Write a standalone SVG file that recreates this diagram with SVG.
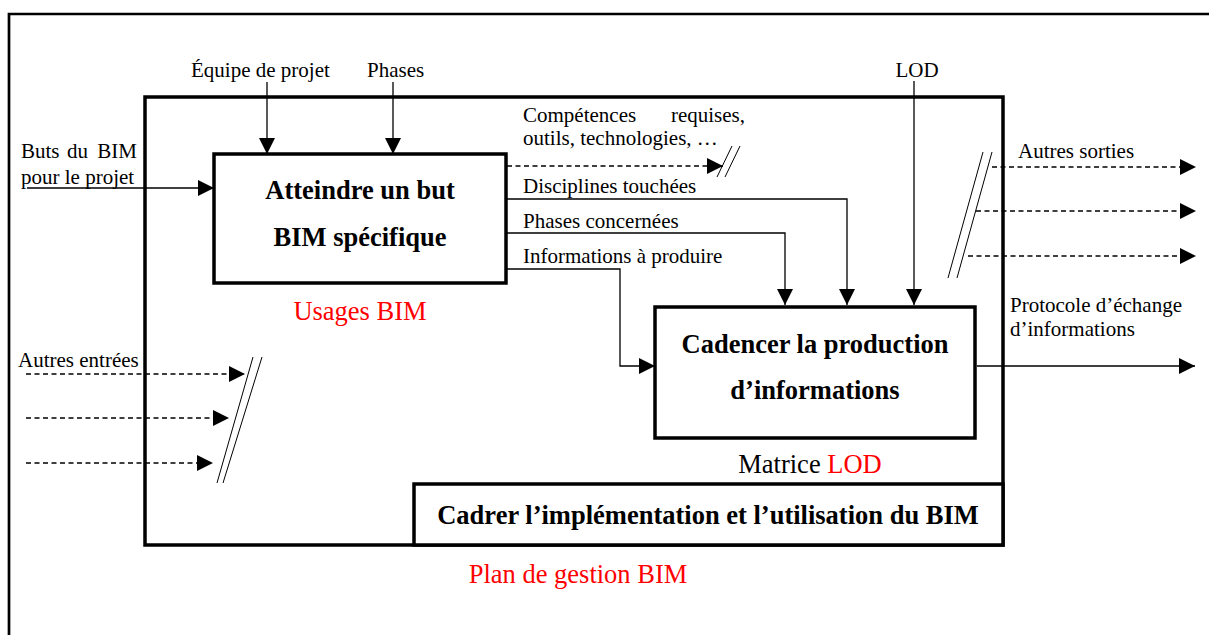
<svg xmlns="http://www.w3.org/2000/svg" width="1209" height="635" viewBox="0 0 1209 635">
<style>
.t{font-family:"Liberation Serif","Times New Roman",serif;font-size:21px;fill:#000}
.b{font-family:"Liberation Serif","Times New Roman",serif;font-size:26.5px;font-weight:bold;fill:#000}
.r{font-family:"Liberation Serif","Times New Roman",serif;font-size:26.5px;fill:#ff0000}
.box{fill:#fff;stroke:#000;stroke-width:3.5}
.frame{fill:none;stroke:#000;stroke-width:3.5}
.ln{fill:none;stroke:#000;stroke-width:1.3}
.dl{fill:none;stroke:#000;stroke-width:1.3;stroke-dasharray:5 3.5}
.sl{fill:none;stroke:#000;stroke-width:1}
</style>
<defs>
<marker id="ah" markerUnits="userSpaceOnUse" markerWidth="16" markerHeight="16" refX="16" refY="8" orient="auto">
<path d="M0,0 L16,8 L0,16 z" fill="#000"/>
</marker>
</defs>
<rect width="1209" height="635" fill="#fff"/>
<path d="M9,640 V14 H1215" fill="none" stroke="#000" stroke-width="2.7"/>
<g id="plan-gestion">
<rect class="frame" x="145" y="97" width="858" height="448"/>
<text class="r" x="578" y="583" text-anchor="middle">Plan de gestion BIM</text>
</g>
<g id="cadrer">
<rect class="box" x="414" y="484" width="589" height="61"/>
<text class="b" x="708" y="524" text-anchor="middle">Cadrer l’implémentation et l’utilisation du BIM</text>
</g>
<g id="atteindre">
<rect class="box" x="214" y="154" width="292" height="129"/>
<text class="b" x="360" y="199" text-anchor="middle">Atteindre un but</text>
<text class="b" x="360" y="246" text-anchor="middle">BIM spécifique</text>
<text class="r" x="360" y="320" text-anchor="middle">Usages BIM</text>
</g>
<g id="cadencer">
<rect class="box" x="655" y="307" width="320" height="131"/>
<text class="b" x="815" y="353" text-anchor="middle">Cadencer la production</text>
<text class="b" x="815" y="399" text-anchor="middle">d’informations</text>
<text class="t" x="810" y="473" text-anchor="middle" style="font-size:26.5px">Matrice <tspan fill="#ff0000">LOD</tspan></text>
</g>
<g id="connectors">
<line class="ln" x1="267" y1="82" x2="267" y2="154" marker-end="url(#ah)"/>
<line class="ln" x1="393" y1="82" x2="393" y2="154" marker-end="url(#ah)"/>
<line class="ln" x1="27" y1="188" x2="214" y2="188" marker-end="url(#ah)"/>
<line class="dl" x1="507" y1="166" x2="723" y2="166" marker-end="url(#ah)"/>
<line class="sl" x1="717" y1="177" x2="732" y2="146"/>
<line class="sl" x1="725" y1="177" x2="740" y2="146"/>
<polyline class="ln" points="507,199 847,199 847,305" marker-end="url(#ah)"/>
<polyline class="ln" points="507,233 785,233 785,305" marker-end="url(#ah)"/>
<polyline class="ln" points="507,269 620,269 620,366 655,366" marker-end="url(#ah)"/>
<line class="ln" x1="914" y1="81" x2="914" y2="305" marker-end="url(#ah)"/>
<line class="ln" x1="977" y1="366" x2="1195" y2="366" marker-end="url(#ah)"/>
<line class="dl" x1="26" y1="374" x2="245" y2="374" marker-end="url(#ah)"/>
<line class="dl" x1="26" y1="418" x2="229" y2="418" marker-end="url(#ah)"/>
<line class="dl" x1="26" y1="463" x2="213" y2="463" marker-end="url(#ah)"/>
<line class="sl" x1="217" y1="483" x2="253" y2="357"/>
<line class="sl" x1="223" y1="483" x2="262" y2="357"/>
<line class="dl" x1="992" y1="167" x2="1196" y2="167" marker-end="url(#ah)"/>
<line class="dl" x1="976" y1="211" x2="1196" y2="211" marker-end="url(#ah)"/>
<line class="dl" x1="968" y1="256" x2="1196" y2="256" marker-end="url(#ah)"/>
<line class="sl" x1="948" y1="278" x2="983" y2="152"/>
<line class="sl" x1="957" y1="278" x2="992" y2="152"/>
</g>
<g id="labels">
<text class="t" x="191" y="77">Équipe de projet</text>
<text class="t" x="367" y="77">Phases</text>
<text class="t" x="917" y="77" text-anchor="middle">LOD</text>
<text class="t" y="158"><tspan x="21">Buts</tspan><tspan x="67">du</tspan><tspan x="137" text-anchor="end">BIM</tspan></text>
<text class="t" x="21" y="184">pour le projet</text>
<text class="t" y="122"><tspan x="523">Compétences</tspan><tspan x="745" text-anchor="end">requises,</tspan></text>
<text class="t" x="523" y="145">outils, technologies, …</text>
<text class="t" x="523" y="193">Disciplines touchées</text>
<text class="t" x="523" y="228">Phases concernées</text>
<text class="t" x="523" y="263">Informations à produire</text>
<text class="t" x="1018" y="158">Autres sorties</text>
<text class="t" x="1010" y="312">Protocole d’échange</text>
<text class="t" x="1010" y="336">d’informations</text>
<text class="t" x="18" y="367">Autres entrées</text>
</g>
</svg>
